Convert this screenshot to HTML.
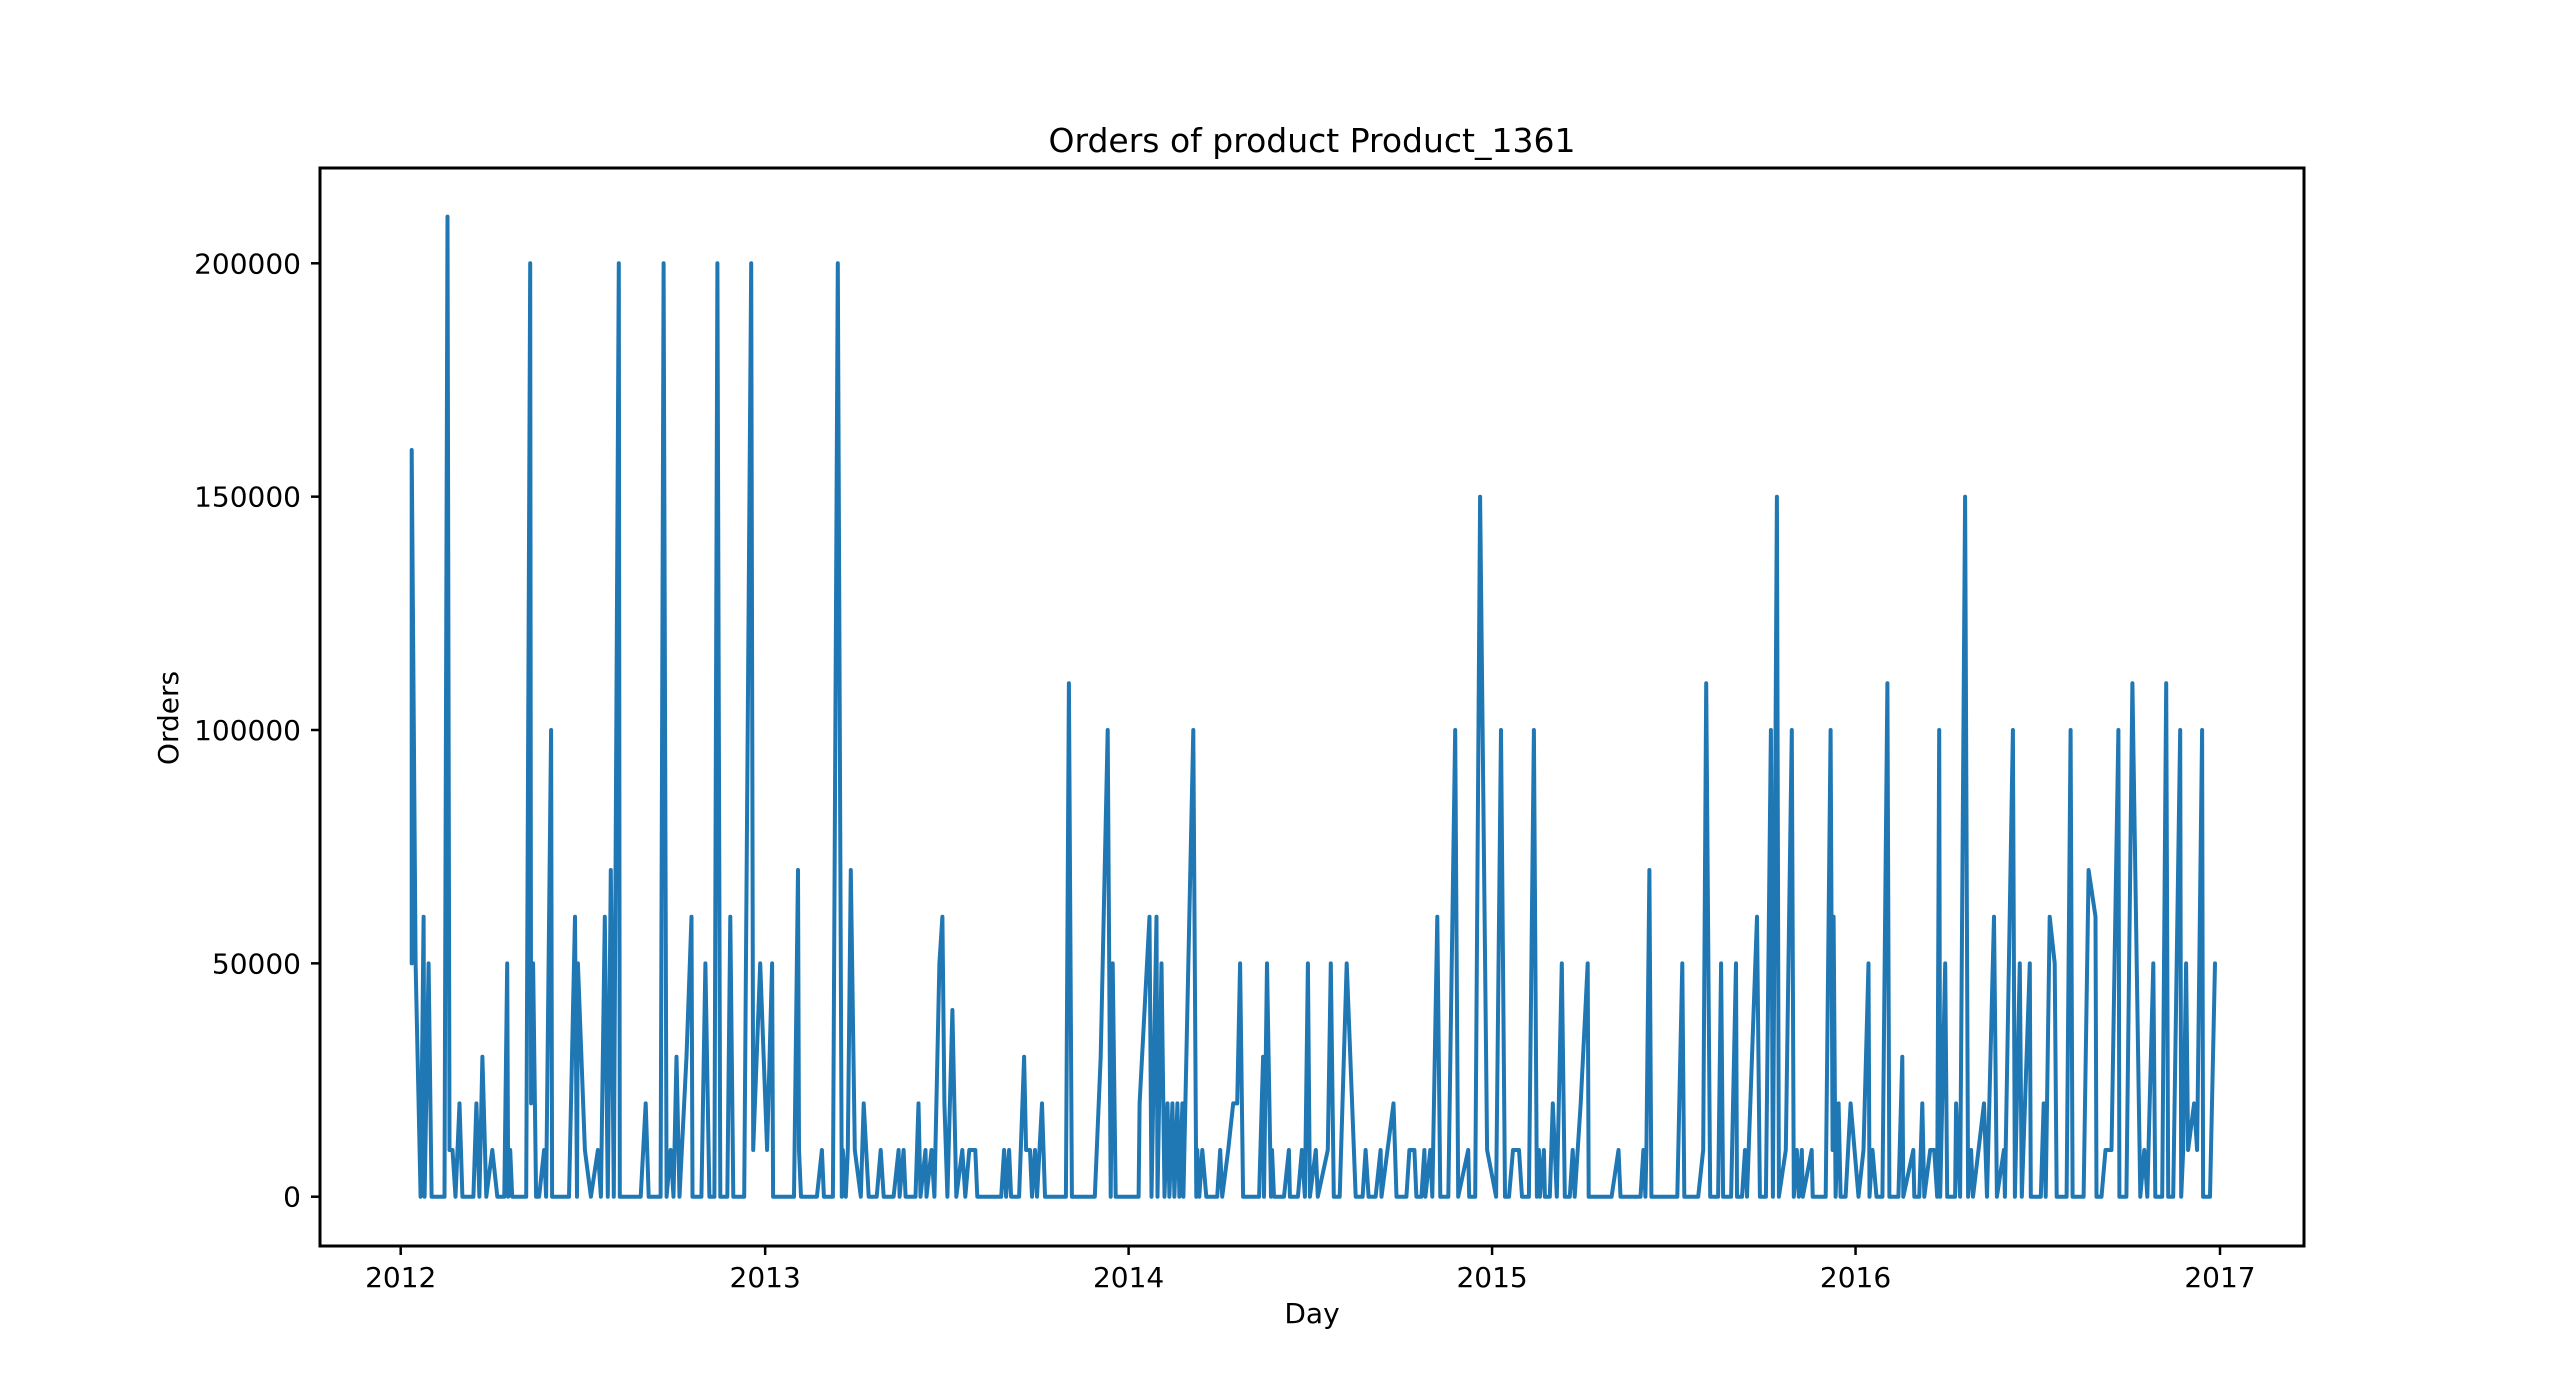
<!DOCTYPE html>
<html><head><meta charset="utf-8"><style>
html,body{margin:0;padding:0;background:#fff;}
svg{display:block;font-family:"DejaVu Sans","Liberation Sans",sans-serif;}
</style></head><body>
<svg id="chart" width="2560" height="1400" viewBox="0 0 2560 1400" xmlns="http://www.w3.org/2000/svg">
<rect width="2560" height="1400" fill="#fff"/>
<text x="1312" y="152" font-size="33" text-anchor="middle">Orders of product Product_1361</text>
<g id="plot"></g>
<rect x="320" y="168" width="1984" height="1078" fill="none" stroke="#000" stroke-width="3"/>
<g id="xticks"></g>
<g id="yticks"></g>
<text x="1312" y="1323" font-size="28" text-anchor="middle">Day</text>
<text x="0" y="0" font-size="28" text-anchor="middle" transform="translate(178,718) rotate(-90)">Orders</text>
</svg>
<script>
// days since 2012-01-01
const days = [11,11,15,20,23,24,28,31,44,47,49,52,55,59,62,73,76,79,82,86,92,97,104,107,108,110,112,126,130,131,133,136,139,144,146,151,152,169,174,175,177,178,185,191,198,201,205,208,211,214,219,220,241,246,249,261,264,267,271,274,277,280,287,292,293,302,306,310,315,318,321,328,331,334,345,352,354,361,368,373,374,379,395,399,400,402,418,423,425,434,439,443,444,447,449,452,456,462,465,470,478,482,485,495,500,501,505,507,517,520,522,527,528,533,536,541,544,546,549,554,558,564,567,571,577,579,603,606,608,611,613,621,626,628,632,634,637,639,644,647,668,671,674,697,703,710,713,715,718,741,742,752,754,759,760,764,767,770,772,775,777,780,782,785,786,796,799,800,802,805,809,820,823,825,831,836,840,843,846,862,866,867,870,874,875,877,887,892,893,901,905,908,911,913,919,921,931,934,937,943,950,959,966,969,972,979,984,985,997,1000,1010,1013,1018,1020,1025,1028,1029,1034,1036,1041,1044,1052,1059,1062,1072,1073,1079,1084,1091,1100,1105,1109,1113,1117,1123,1126,1133,1138,1141,1143,1144,1148,1149,1154,1157,1161,1166,1169,1174,1177,1179,1185,1192,1193,1216,1223,1225,1245,1248,1250,1251,1254,1256,1282,1287,1289,1303,1308,1311,1315,1323,1326,1328,1336,1341,1342,1347,1350,1352,1357,1362,1365,1371,1376,1378,1382,1384,1391,1397,1399,1402,1404,1407,1408,1417,1418,1431,1436,1438,1439,1441,1444,1446,1451,1456,1464,1469,1474,1475,1478,1482,1488,1493,1495,1504,1508,1509,1519,1520,1525,1528,1530,1536,1540,1543,1545,1546,1551,1553,1561,1562,1566,1571,1574,1577,1579,1590,1593,1600,1603,1610,1611,1619,1621,1626,1628,1636,1637,1647,1650,1652,1656,1661,1663,1673,1677,1679,1690,1695,1702,1703,1708,1712,1718,1725,1726,1733,1739,1747,1751,1754,1760,1762,1769,1773,1775,1780,1787,1788,1790,1793,1795,1801,1804,1809,1810,1817,1822];
const orders = [50000,160000,50000,0,60000,0,50000,0,0,210000,10000,10000,0,20000,0,0,20000,0,30000,0,10000,0,0,50000,0,10000,0,0,200000,20000,50000,0,0,10000,0,100000,0,0,50000,60000,0,50000,10000,0,10000,0,60000,0,70000,0,200000,0,0,20000,0,0,200000,0,10000,0,30000,0,30000,60000,0,0,50000,0,0,200000,0,0,60000,0,0,200000,10000,50000,10000,50000,0,0,0,70000,10000,0,0,10000,0,0,200000,0,10000,0,10000,70000,10000,0,20000,0,0,10000,0,0,10000,0,10000,0,0,20000,0,10000,0,10000,0,50000,60000,20000,0,40000,0,10000,0,10000,10000,0,0,10000,0,10000,0,0,30000,10000,10000,0,10000,0,20000,0,0,110000,0,0,30000,100000,0,50000,0,0,20000,60000,0,60000,0,50000,0,20000,0,20000,0,20000,0,20000,0,100000,0,10000,0,10000,0,0,10000,0,10000,20000,20000,50000,0,0,30000,0,50000,0,10000,0,0,10000,0,0,10000,0,50000,0,10000,0,10000,50000,0,0,50000,0,0,10000,0,0,10000,0,20000,0,0,10000,10000,0,0,10000,0,10000,0,60000,0,0,100000,0,10000,0,0,150000,10000,0,100000,0,0,10000,10000,0,0,100000,0,10000,0,10000,0,0,20000,0,50000,0,0,10000,0,20000,50000,0,0,10000,0,0,10000,0,10000,70000,0,0,50000,0,0,10000,110000,0,0,50000,0,0,50000,0,0,10000,0,30000,60000,0,0,100000,0,150000,0,10000,100000,0,10000,0,10000,0,10000,0,0,100000,10000,60000,0,20000,0,0,20000,0,10000,50000,0,10000,0,0,110000,0,0,30000,0,10000,0,0,20000,0,10000,10000,0,100000,0,50000,0,0,20000,0,150000,0,10000,0,20000,0,60000,0,10000,0,100000,0,50000,0,50000,0,0,20000,0,60000,50000,0,0,100000,0,0,70000,60000,0,0,10000,10000,100000,0,0,110000,0,10000,0,50000,0,0,110000,0,0,100000,0,10000,50000,10000,20000,10000,100000,0,0,50000];
const xTickLabels = ["2012","2013","2014","2015","2016","2017"];
const xTickDays = [0,366,731,1096,1461,1827];
const yTickValues = [0,50000,100000,150000,200000];

const NS = "http://www.w3.org/2000/svg";
function xScale(d){ return 400.7 + d * (2220 - 400.7) / 1827; }
function yScale(v){ return 1196.7 - v * (1196.7 - 263.3) / 200000; }

const plot = document.getElementById('plot');
let dstr = "";
for (let i = 0; i < days.length; i++) {
  dstr += (i ? "L" : "M") + xScale(days[i]).toFixed(1) + " " + yScale(orders[i]).toFixed(1);
}
const line = document.createElementNS(NS, 'path');
line.setAttribute('d', dstr);
line.setAttribute('fill', 'none');
line.setAttribute('stroke', '#1f77b4');
line.setAttribute('stroke-width', '4');
line.setAttribute('stroke-linejoin', 'round');
line.setAttribute('stroke-linecap', 'round');


plot.appendChild(line);

const xg = document.getElementById('xticks');
xTickLabels.forEach((lab, i) => {
  const x = xScale(xTickDays[i]);
  const t = document.createElementNS(NS, 'line');
  t.setAttribute('x1', x); t.setAttribute('x2', x);
  t.setAttribute('y1', 1246); t.setAttribute('y2', 1255);
  t.setAttribute('stroke', '#000'); t.setAttribute('stroke-width', '2.5');
  
  
  xg.appendChild(t);
  const tx = document.createElementNS(NS, 'text');
  tx.setAttribute('x', x); tx.setAttribute('y', 1287);
  tx.setAttribute('font-size', '28'); tx.setAttribute('text-anchor', 'middle');
  tx.textContent = lab;
  
  
  xg.appendChild(tx);
});

const yg = document.getElementById('yticks');
yTickValues.forEach(v => {
  const y = yScale(v);
  const t = document.createElementNS(NS, 'line');
  t.setAttribute('x1', 311); t.setAttribute('x2', 320);
  t.setAttribute('y1', y); t.setAttribute('y2', y);
  t.setAttribute('stroke', '#000'); t.setAttribute('stroke-width', '2.5');
  
  
  yg.appendChild(t);
  const tx = document.createElementNS(NS, 'text');
  tx.setAttribute('x', 301); tx.setAttribute('y', y + 10);
  tx.setAttribute('font-size', '28'); tx.setAttribute('text-anchor', 'end');
  tx.textContent = String(v);
  
  
  yg.appendChild(tx);
});
</script>
</body></html>
